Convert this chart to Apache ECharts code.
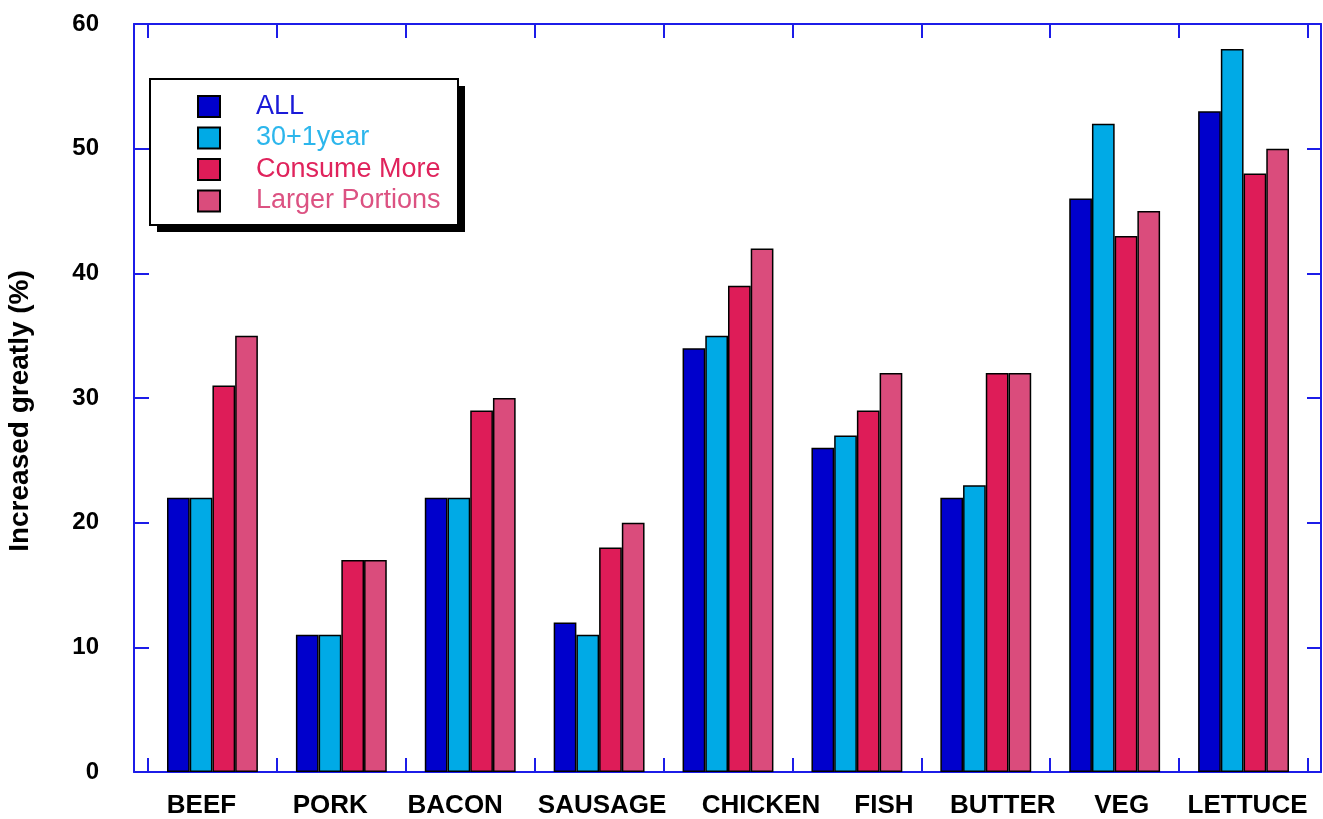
<!DOCTYPE html>
<html><head><meta charset="utf-8">
<script src="https://cdn.jsdelivr.net/npm/echarts@6/dist/echarts.min.js"></script>
<style>html,body{margin:0;padding:0;background:#fff}#c{width:1323px;height:819px}</style>
</head><body><div id="c"></div>
<script>
// ---- data ----
const categories = ['BEEF', 'PORK', 'BACON', 'SAUSAGE', 'CHICKEN', 'FISH', 'BUTTER', 'VEG', 'LETTUCE'];
const seriesNames = ['ALL', '30+1year', 'Consume More', 'Larger Portions'];
const allValues = [22, 11, 22, 12, 34, 26, 22, 46, 53];
const age30Values = [22, 11, 22, 11, 35, 27, 23, 52, 58];
const consumeMoreValues = [31, 17, 29, 18, 39, 29, 32, 43, 48];
const largerPortionsValues = [35, 17, 30, 20, 42, 32, 32, 45, 50];
const yAxisTitle = 'Increased greatly (%)';

// ---- styles ----
const FONT = "'Liberation Sans', Arial, Helvetica, sans-serif";
const AXIS_BLUE = '#1c1ce8';
const barColors = ['#0000cc', '#00aae6', '#de1c58', '#da4c7c'];
const legendTextColors = ['#1a1ad8', '#2cb6ec', '#e0235c', '#dc5282'];
const labelShift = { BEEF: -11, PORK: -11, BACON: -15, SAUSAGE: 3, CHICKEN: 33, FISH: 27, BUTTER: 17, VEG: 7, LETTUCE: 4 };
const legendBox = { x: 150, y: 79, w: 308, h: 146, shadow: 7 };

const valueSets = [allValues, age30Values, consumeMoreValues, largerPortionsValues];

const catData = categories.map(c => {
  const s = labelShift[c] || 0;
  return { value: c, textStyle: { padding: s >= 0 ? [0, 0, 0, 2 * s] : [0, -2 * s, 0, 0] } };
});

const chart = echarts.init(document.getElementById('c'), null, { renderer: 'canvas' });
const blueLine = { show: true, onZero: false, lineStyle: { color: AXIS_BLUE, width: 2 } };

chart.setOption({
  backgroundColor: '#fff',
  animation: false,
  textStyle: { fontFamily: FONT },
  grid: [
    { left: 134, top: 24, width: 1187, height: 748, containLabel: false, outerBoundsMode: 'none' },
    { left: 148, top: 24, width: 1160, height: 748, containLabel: false, outerBoundsMode: 'none' }
  ],
  graphic: [
    { type: 'rect', z: 5, silent: true,
      shape: { x: legendBox.x + legendBox.shadow, y: legendBox.y + legendBox.shadow, width: legendBox.w, height: legendBox.h },
      style: { fill: '#000' } },
    { type: 'rect', z: 6, silent: true,
      shape: { x: legendBox.x, y: legendBox.y, width: legendBox.w, height: legendBox.h },
      style: { fill: '#fff', stroke: '#000', lineWidth: 2 } }
  ],
  legend: {
    orient: 'vertical',
    left: 197, top: 93,
    padding: 0,
    z: 10,
    itemWidth: 22, itemHeight: 21, itemGap: 4.5,
    icon: 'rect',
    selectedMode: false,
    textStyle: { fontFamily: FONT, fontSize: 27, padding: [0, 0, 0, 31] },
    data: seriesNames.map((n, i) => ({ name: n, textStyle: { color: legendTextColors[i] } }))
  },
  xAxis: [
    { gridIndex: 0, type: 'value', min: 0, max: 1, position: 'bottom', axisLine: blueLine,
      axisTick: { show: false }, axisLabel: { show: false }, splitLine: { show: false } },
    { gridIndex: 0, type: 'value', min: 0, max: 1, position: 'top', axisLine: blueLine,
      axisTick: { show: false }, axisLabel: { show: false }, splitLine: { show: false } },
    { gridIndex: 1, type: 'category', data: catData, position: 'bottom',
      axisLine: { show: false },
      axisTick: { show: true, inside: true, length: 14, interval: 0, lineStyle: { color: AXIS_BLUE, width: 2 } },
      axisLabel: { interval: 0, margin: 21, color: '#000', fontWeight: 'bold', fontSize: 26, fontFamily: FONT },
      splitLine: { show: false } },
    { gridIndex: 1, type: 'category', data: categories, position: 'top',
      axisLine: { show: false },
      axisTick: { show: true, inside: true, length: 14, interval: 0, lineStyle: { color: AXIS_BLUE, width: 2 } },
      axisLabel: { show: false }, splitLine: { show: false } }
  ],
  yAxis: [
    { gridIndex: 0, type: 'value', min: 0, max: 60, interval: 10, position: 'left',
      axisLine: blueLine,
      axisTick: { show: true, inside: true, length: 15, lineStyle: { color: AXIS_BLUE, width: 2 } },
      axisLabel: { margin: 35, color: '#000', fontWeight: 'bold', fontSize: 24, fontFamily: FONT },
      splitLine: { show: false },
      name: yAxisTitle, nameLocation: 'middle', nameGap: 100, nameRotate: 90,
      nameTextStyle: { color: '#000', fontWeight: 'bold', fontSize: 28, fontFamily: FONT, padding: [0, 26, 0, 0] } },
    { gridIndex: 0, type: 'value', min: 0, max: 60, interval: 10, position: 'right',
      axisLine: blueLine,
      axisTick: { show: true, inside: true, length: 14, lineStyle: { color: AXIS_BLUE, width: 2 } },
      axisLabel: { show: false }, splitLine: { show: false } },
    { gridIndex: 1, type: 'value', min: 0, max: 60, show: false }
  ],
  series: seriesNames.map((n, i) => ({
    name: n, type: 'bar', xAxisIndex: 2, yAxisIndex: 2,
    barGap: '0%', barCategoryGap: '29.5%',
    itemStyle: { color: barColors[i], borderColor: '#000', borderWidth: 1.5 },
    data: valueSets[i]
  }))
});
</script></body></html>
